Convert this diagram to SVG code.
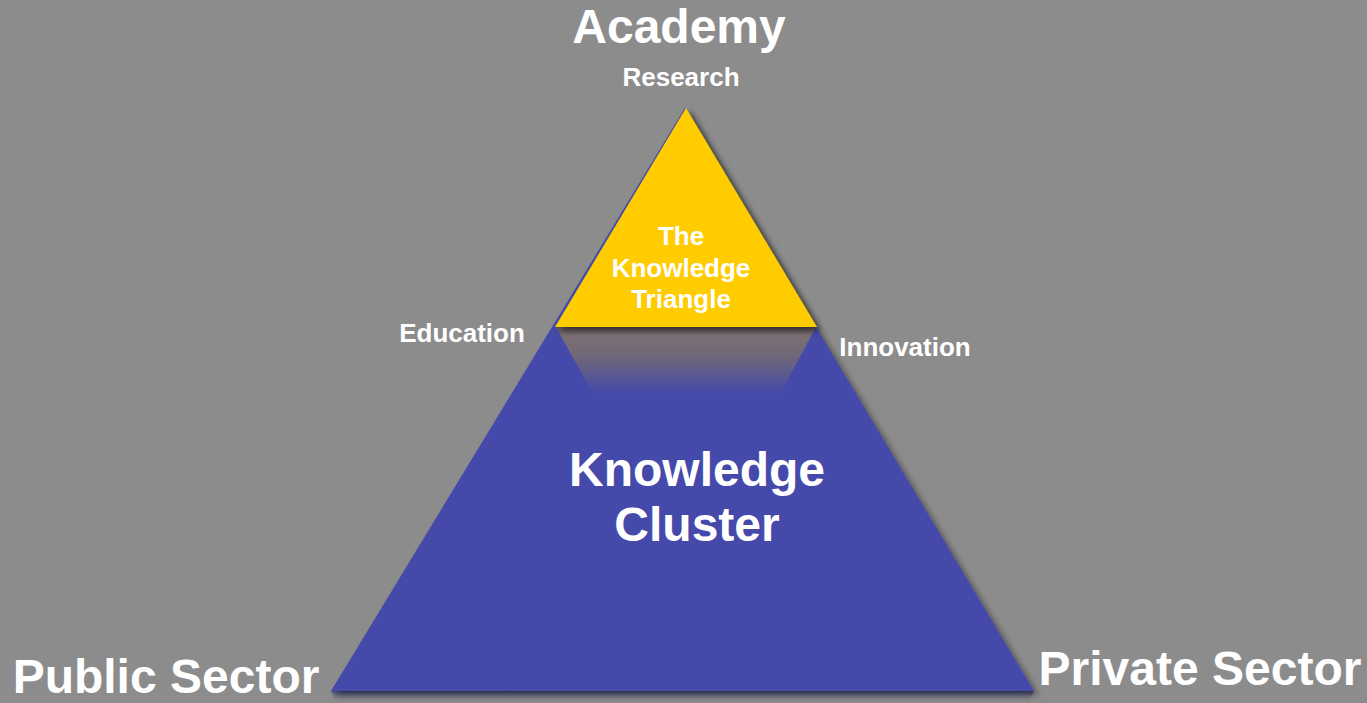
<svg xmlns="http://www.w3.org/2000/svg" width="1367" height="703" viewBox="0 0 1367 703">
  <defs>
    <filter id="shadow" x="-10%" y="-10%" width="130%" height="130%">
      <feDropShadow dx="4" dy="4" stdDeviation="3" flood-color="#000" flood-opacity="0.45"/>
    </filter>
    <linearGradient id="underGlow" x1="0" y1="0" x2="0" y2="1">
      <stop offset="0" stop-color="#5e5659"/>
      <stop offset="0.12" stop-color="#7b7073"/>
      <stop offset="0.45" stop-color="#6f6679"/>
      <stop offset="1" stop-color="#444aaa"/>
    </linearGradient>
    <linearGradient id="baseFade" x1="0" y1="0" x2="0" y2="1">
      <stop offset="0" stop-color="#3a3f80"/>
      <stop offset="1" stop-color="#8c8c8c" stop-opacity="0"/>
    </linearGradient>
    <style>
      text { font-family: "Liberation Sans", Arial, sans-serif; font-weight: bold; fill: #ffffff; text-anchor: middle; }
      .big { font-size: 48px; }
      .small { font-size: 26px; }
    </style>
  </defs>

  <rect width="1367" height="703" fill="#8c8c8c"/>

  <!-- Knowledge Cluster: large blue triangle -->
  <g id="knowledge-cluster">
    <polygon points="331,691 1034,691 1028,703 337,703" fill="url(#baseFade)" opacity="0.8"/>
    <polygon points="685,108 1034,691 331,691" fill="#444aaa" filter="url(#shadow)"/>
    <polygon points="556,327 816,327 780,394 593,394" fill="url(#underGlow)"/>
    <text class="big" x="697" y="486">Knowledge</text>
    <text class="big" x="697" y="541">Cluster</text>
  </g>

  <!-- The Knowledge Triangle: yellow top -->
  <g id="knowledge-triangle">
    <polygon points="686,108 817,327 555,327" fill="#ffcc00" filter="url(#shadow)"/>
    <text class="small" x="681" y="245">The</text>
    <text class="small" x="681" y="277">Knowledge</text>
    <text class="small" x="681" y="308">Triangle</text>
  </g>

  <g id="academy">
    <text class="big" x="679" y="43">Academy</text>
    <text class="small" x="681" y="86">Research</text>
  </g>

  <g id="education">
    <text class="small" x="462" y="342">Education</text>
  </g>

  <g id="innovation">
    <text class="small" x="905" y="356">Innovation</text>
  </g>

  <g id="public-sector">
    <text class="big" x="166" y="693">Public Sector</text>
  </g>

  <g id="private-sector">
    <text class="big" x="1200" y="685">Private Sector</text>
  </g>
</svg>
